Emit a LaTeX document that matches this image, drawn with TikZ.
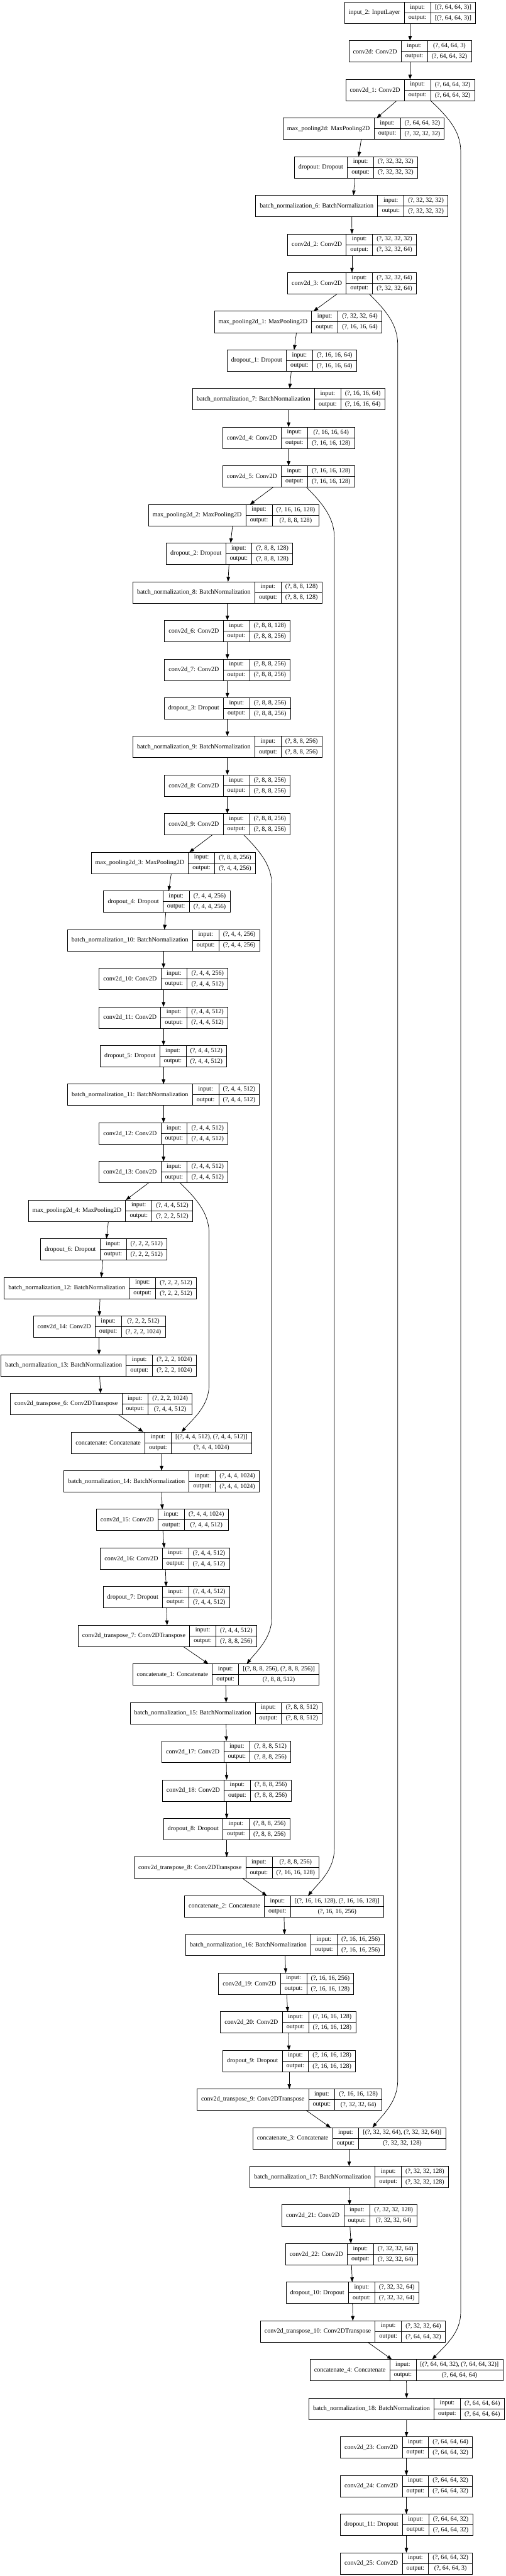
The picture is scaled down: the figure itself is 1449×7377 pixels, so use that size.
\documentclass[tikz,border=0pt]{standalone}
\usepackage{fontspec}
\setmainfont{Liberation Serif}
\usetikzlibrary{arrows.meta,calc}
\newcommand\lfont{\fontsize{18.14pt}{21pt}\selectfont}
\newlength\wlab \newlength\wio \newlength\wshp \newlength\wtmp
%% layers: index / centre x / name / input shape / output shape
\newcommand\layerlist{
  1/1175/input\_2: InputLayer/{[(?, 64, 64, 3)]}/{[(?, 64, 64, 3)]},
  2/1175/conv2d: Conv2D/{(?, 64, 64, 3)}/{(?, 64, 64, 32)},
  3/1175/conv2d\_1: Conv2D/{(?, 64, 64, 32)}/{(?, 64, 64, 32)},
  4/1042/max\_pooling2d: MaxPooling2D/{(?, 64, 64, 32)}/{(?, 32, 32, 32)},
  5/1020/dropout: Dropout/{(?, 32, 32, 32)}/{(?, 32, 32, 32)},
  6/1008/batch\_normalization\_6: BatchNormalization/{(?, 32, 32, 32)}/{(?, 32, 32, 32)},
  7/1008.5/conv2d\_2: Conv2D/{(?, 32, 32, 32)}/{(?, 32, 32, 64)},
  8/1008.5/conv2d\_3: Conv2D/{(?, 32, 32, 64)}/{(?, 32, 32, 64)},
  9/854/max\_pooling2d\_1: MaxPooling2D/{(?, 32, 32, 64)}/{(?, 16, 16, 64)},
  10/836/dropout\_1: Dropout/{(?, 16, 16, 64)}/{(?, 16, 16, 64)},
  11/827/batch\_normalization\_7: BatchNormalization/{(?, 16, 16, 64)}/{(?, 16, 16, 64)},
  12/827/conv2d\_4: Conv2D/{(?, 16, 16, 64)}/{(?, 16, 16, 128)},
  13/827/conv2d\_5: Conv2D/{(?, 16, 16, 128)}/{(?, 16, 16, 128)},
  14/670/max\_pooling2d\_2: MaxPooling2D/{(?, 16, 16, 128)}/{(?, 8, 8, 128)},
  15/657.5/dropout\_2: Dropout/{(?, 8, 8, 128)}/{(?, 8, 8, 128)},
  16/651.5/batch\_normalization\_8: BatchNormalization/{(?, 8, 8, 128)}/{(?, 8, 8, 128)},
  17/651.5/conv2d\_6: Conv2D/{(?, 8, 8, 128)}/{(?, 8, 8, 256)},
  18/651.5/conv2d\_7: Conv2D/{(?, 8, 8, 256)}/{(?, 8, 8, 256)},
  19/651/dropout\_3: Dropout/{(?, 8, 8, 256)}/{(?, 8, 8, 256)},
  20/651.5/batch\_normalization\_9: BatchNormalization/{(?, 8, 8, 256)}/{(?, 8, 8, 256)},
  21/651.5/conv2d\_8: Conv2D/{(?, 8, 8, 256)}/{(?, 8, 8, 256)},
  22/651.5/conv2d\_9: Conv2D/{(?, 8, 8, 256)}/{(?, 8, 8, 256)},
  23/496.5/max\_pooling2d\_3: MaxPooling2D/{(?, 8, 8, 256)}/{(?, 4, 4, 256)},
  24/478/dropout\_4: Dropout/{(?, 4, 4, 256)}/{(?, 4, 4, 256)},
  25/468.5/batch\_normalization\_10: BatchNormalization/{(?, 4, 4, 256)}/{(?, 4, 4, 256)},
  26/468.5/conv2d\_10: Conv2D/{(?, 4, 4, 256)}/{(?, 4, 4, 512)},
  27/468.5/conv2d\_11: Conv2D/{(?, 4, 4, 512)}/{(?, 4, 4, 512)},
  28/468.5/dropout\_5: Dropout/{(?, 4, 4, 512)}/{(?, 4, 4, 512)},
  29/468.5/batch\_normalization\_11: BatchNormalization/{(?, 4, 4, 512)}/{(?, 4, 4, 512)},
  30/468.5/conv2d\_12: Conv2D/{(?, 4, 4, 512)}/{(?, 4, 4, 512)},
  31/468.5/conv2d\_13: Conv2D/{(?, 4, 4, 512)}/{(?, 4, 4, 512)},
  32/316.5/max\_pooling2d\_4: MaxPooling2D/{(?, 4, 4, 512)}/{(?, 2, 2, 512)},
  33/297.5/dropout\_6: Dropout/{(?, 2, 2, 512)}/{(?, 2, 2, 512)},
  34/287.5/batch\_normalization\_12: BatchNormalization/{(?, 2, 2, 512)}/{(?, 2, 2, 512)},
  35/284.5/conv2d\_14: Conv2D/{(?, 2, 2, 512)}/{(?, 2, 2, 1024)},
  36/283/batch\_normalization\_13: BatchNormalization/{(?, 2, 2, 1024)}/{(?, 2, 2, 1024)},
  37/290/conv2d\_transpose\_6: Conv2DTranspose/{(?, 2, 2, 1024)}/{(?, 4, 4, 512)},
  38/463/concatenate: Concatenate/{[(?, 4, 4, 512), (?, 4, 4, 512)]}/{(?, 4, 4, 1024)},
  39/463/batch\_normalization\_14: BatchNormalization/{(?, 4, 4, 1024)}/{(?, 4, 4, 1024)},
  40/465/conv2d\_15: Conv2D/{(?, 4, 4, 1024)}/{(?, 4, 4, 512)},
  41/472.5/conv2d\_16: Conv2D/{(?, 4, 4, 512)}/{(?, 4, 4, 512)},
  42/476.5/dropout\_7: Dropout/{(?, 4, 4, 512)}/{(?, 4, 4, 512)},
  43/479.5/conv2d\_transpose\_7: Conv2DTranspose/{(?, 4, 4, 512)}/{(?, 8, 8, 256)},
  44/647/concatenate\_1: Concatenate/{[(?, 8, 8, 256), (?, 8, 8, 256)]}/{(?, 8, 8, 512)},
  45/648/batch\_normalization\_15: BatchNormalization/{(?, 8, 8, 512)}/{(?, 8, 8, 512)},
  46/648.5/conv2d\_17: Conv2D/{(?, 8, 8, 512)}/{(?, 8, 8, 256)},
  47/649.5/conv2d\_18: Conv2D/{(?, 8, 8, 256)}/{(?, 8, 8, 256)},
  48/649.5/dropout\_8: Dropout/{(?, 8, 8, 256)}/{(?, 8, 8, 256)},
  49/649.5/conv2d\_transpose\_8: Conv2DTranspose/{(?, 8, 8, 256)}/{(?, 16, 16, 128)},
  50/814/concatenate\_2: Concatenate/{[(?, 16, 16, 128), (?, 16, 16, 128)]}/{(?, 16, 16, 256)},
  51/816.5/batch\_normalization\_16: BatchNormalization/{(?, 16, 16, 256)}/{(?, 16, 16, 256)},
  52/820/conv2d\_19: Conv2D/{(?, 16, 16, 256)}/{(?, 16, 16, 128)},
  53/825.5/conv2d\_20: Conv2D/{(?, 16, 16, 128)}/{(?, 16, 16, 128)},
  54/828.5/dropout\_9: Dropout/{(?, 16, 16, 128)}/{(?, 16, 16, 128)},
  55/829.5/conv2d\_transpose\_9: Conv2DTranspose/{(?, 16, 16, 128)}/{(?, 32, 32, 64)},
  56/1000.5/concatenate\_3: Concatenate/{[(?, 32, 32, 64), (?, 32, 32, 64)]}/{(?, 32, 32, 128)},
  57/1000.5/batch\_normalization\_17: BatchNormalization/{(?, 32, 32, 128)}/{(?, 32, 32, 128)},
  58/1001.5/conv2d\_21: Conv2D/{(?, 32, 32, 128)}/{(?, 32, 32, 64)},
  59/1007/conv2d\_22: Conv2D/{(?, 32, 32, 64)}/{(?, 32, 32, 64)},
  60/1009.5/dropout\_10: Dropout/{(?, 32, 32, 64)}/{(?, 32, 32, 64)},
  61/1011/conv2d\_transpose\_10: Conv2DTranspose/{(?, 32, 32, 64)}/{(?, 64, 64, 32)},
  62/1164.5/concatenate\_4: Concatenate/{[(?, 64, 64, 32), (?, 64, 64, 32)]}/{(?, 64, 64, 64)},
  63/1165/batch\_normalization\_18: BatchNormalization/{(?, 64, 64, 64)}/{(?, 64, 64, 64)},
  64/1164.5/conv2d\_23: Conv2D/{(?, 64, 64, 64)}/{(?, 64, 64, 32)},
  65/1164.5/conv2d\_24: Conv2D/{(?, 64, 64, 32)}/{(?, 64, 64, 32)},
  66/1164.5/dropout\_11: Dropout/{(?, 64, 64, 32)}/{(?, 64, 64, 32)},
  67/1164.5/conv2d\_25: Conv2D/{(?, 64, 64, 32)}/{(?, 64, 64, 3)}}
\begin{document}
%% cell widths, measured before the picture
\settowidth{\wio}{\lfont output:}\addtolength{\wio}{24pt}\xdef\wiocell{\the\wio}%
\foreach \idx/\cx/\lab/\ins/\outs in \layerlist {%
  \settowidth{\wlab}{\lfont\lab}\addtolength{\wlab}{24pt}%
  \settowidth{\wshp}{\lfont\ins}\settowidth{\wtmp}{\lfont\outs}%
  \ifdim\wtmp>\wshp\setlength{\wshp}{\wtmp}\fi
  \addtolength{\wshp}{24pt}%
  \expandafter\xdef\csname wlab\idx\endcsname{\the\wlab}%
  \expandafter\xdef\csname wshp\idx\endcsname{\the\wshp}%
}%
\begin{tikzpicture}
[x=1pt,y=-1pt,
  boxdecorate/.style={shape=rectangle,draw,line width=1.3pt,minimum height=61.3pt,inner sep=0pt,outer sep=0pt},%
  celldecorate/.style={shape=rectangle,draw,line width=1.3pt,minimum height=30.65pt,inner sep=0pt,outer sep=0pt,font=\lfont},%
  linedecorate/.style={-{Triangle[length=13.5pt,width=10pt]},line width=1.3pt}]
\fill[white] (0,0) rectangle (1449,7377);
\useasboundingbox (0,0) rectangle (1449,7377);
%% layer boxes
\foreach \idx/\cx/\lab/\ins/\outs in \layerlist {
  \edef\wl{\csname wlab\idx\endcsname}\edef\ws{\csname wshp\idx\endcsname}
  \pgfmathsetmacro{\wt}{\wl+\wiocell+\ws}
  \pgfmathsetmacro{\cy}{36.5+(\idx-1)*110.67}
  \node (L\idx) at (\cx,\cy) [boxdecorate,minimum width=\wt pt] {};
  \node (L\idx-lab) at (L\idx.north west) [celldecorate,anchor=north west,minimum width=\wl,minimum height=61.3pt] {\lab};
  \node (L\idx-in) at (L\idx-lab.north east) [celldecorate,anchor=north west,minimum width=\wiocell] {input:};
  \node (L\idx-out) at (L\idx-in.south west) [celldecorate,anchor=north west,minimum width=\wiocell] {output:};
  \node (L\idx-ins) at (L\idx-in.north east) [celldecorate,anchor=north west,minimum width=\ws] {\ins};
  \node (L\idx-outs) at (L\idx-out.north east) [celldecorate,anchor=north west,minimum width=\ws] {\outs};
}
%% main chain: from / to / start offset / end offset
\foreach \a/\b/\sx/\ex in {1/2/0/0, 2/3/0/0, 3/4/-38.3/37.4, 4/5/-7/7.6,
  5/6/-3.4/4.9, 6/7/0/0, 7/8/0/0, 8/9/-42.8/44.3, 9/10/-4.7/6.8,
  10/11/-1.5/2.9, 11/12/0/0, 12/13/0/0, 13/14/-44.2/46.2, 14/15/-3.7/3.3,
  15/16/-1.4/1.9, 16/17/0/0, 17/18/0/0, 18/19/0/0.5, 19/20/0.5/0,
  20/21/0/0, 21/22/0/0, 22/23/-43.4/46, 23/24/-5.8/5.3, 24/25/-3/2.8,
  25/26/0/0, 26/27/0/0, 27/28/0/0, 28/29/0/0, 29/30/0/0, 30/31/0/0,
  31/32/-42.5/43.9, 32/33/-6/7.5, 33/34/-2.7/2.7, 34/35/-1/0,
  35/36/-0.8/0.7, 36/37/2.6/-1.7, 37/38/49.2/-52.7, 38/39/0/0,
  39/40/0/0, 40/41/1.7/-2.1, 41/42/1.5/-0.5, 42/43/0.4/-0.8,
  43/44/45.4/-50, 44/45/0/0, 45/46/0/0, 46/47/0/0, 47/48/0/0,
  48/49/0/0, 49/50/45.5/-49.7, 50/51/0/-1.4, 51/52/0.5/-1.2,
  52/53/1.6/-1.2, 53/54/0.7/-0.5, 54/55/0.5/-0.5, 55/56/47.5/-53.3,
  56/57/0/0, 57/58/0/0.3, 58/59/1.2/-1.5, 59/60/0.3/-0.3, 60/61/0.5/0,
  61/62/42.5/-41.7, 62/63/0/0, 63/64/0/0, 64/65/0/0, 65/66/0/0, 66/67/0/0} {
  \draw[linedecorate] ([xshift=\sx pt]L\a.south) -- ([xshift=\ex pt]L\b.north);
}
%% skip connections: from / to / start offset / column x / end offset
\foreach \a/\b/\sx/\col/\ex in {3/62/59/1320/73.9, 8/56/49.5/1139.5/66.9,
  13/50/51/958/68.6, 22/44/47.1/779/60, 31/38/47.2/599/57.3} {
  \draw[linedecorate] let \p1=([xshift=\sx pt]L\a.south), \p2=([xshift=\ex pt]L\b.north) in
    (\p1) .. controls ({\x1+0.55*(\col pt-\x1)},{\y1-45pt}) and (\col pt,{\y1-85pt}) .. (\col pt,{\y1-145pt})
    -- (\col pt,{\y2+135pt}) .. controls (\col pt,{\y2+75pt}) and ({\x2+0.45*(\col pt-\x2)},{\y2+40pt}) .. (\p2);
}
\end{tikzpicture}
\end{document}
